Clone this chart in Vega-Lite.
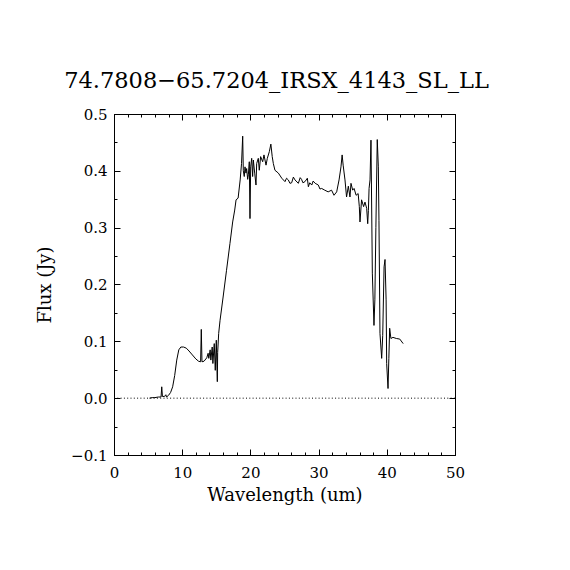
{
  "$schema": "https://vega.github.io/schema/vega-lite/v6.json",
  "width": 341,
  "height": 341,
  "autosize": "none",
  "padding": {"left": 114, "top": 114, "right": 115, "bottom": 115},
  "background": "white",
  "title": {
    "text": "74.7808−65.7204_IRSX_4143_SL_LL",
    "font": "DejaVu Serif",
    "fontSize": 22.5,
    "fontWeight": "normal",
    "color": "black",
    "anchor": "middle",
    "baseline": "alphabetic",
    "offset": 25,
    "dy": 28,
    "dx": -8
  },
  "datasets": {
    "spectrum": [
      {"wave": 5.2, "flux": 0.0}, {"wave": 5.6, "flux": 0.001}, {"wave": 6.0, "flux": 0.001},
      {"wave": 6.5, "flux": 0.002}, {"wave": 6.9, "flux": 0.002}, {"wave": 7.0, "flux": 0.02},
      {"wave": 7.1, "flux": 0.003}, {"wave": 7.4, "flux": 0.003}, {"wave": 7.6, "flux": 0.006},
      {"wave": 7.7, "flux": 0.002}, {"wave": 8.0, "flux": 0.005}, {"wave": 8.3, "flux": 0.01},
      {"wave": 8.6, "flux": 0.02}, {"wave": 8.9, "flux": 0.04}, {"wave": 9.2, "flux": 0.067},
      {"wave": 9.5, "flux": 0.085}, {"wave": 9.8, "flux": 0.09}, {"wave": 10.2, "flux": 0.09},
      {"wave": 10.6, "flux": 0.088}, {"wave": 11.0, "flux": 0.083}, {"wave": 11.5, "flux": 0.076},
      {"wave": 12.0, "flux": 0.069}, {"wave": 12.4, "flux": 0.065}, {"wave": 12.7, "flux": 0.064},
      {"wave": 12.8, "flux": 0.121}, {"wave": 12.9, "flux": 0.064}, {"wave": 13.2, "flux": 0.065},
      {"wave": 13.6, "flux": 0.071}, {"wave": 13.8, "flux": 0.079}, {"wave": 13.9, "flux": 0.07},
      {"wave": 14.1, "flux": 0.085}, {"wave": 14.2, "flux": 0.067}, {"wave": 14.4, "flux": 0.09},
      {"wave": 14.5, "flux": 0.061}, {"wave": 14.7, "flux": 0.096}, {"wave": 14.85, "flux": 0.049},
      {"wave": 15.0, "flux": 0.102}, {"wave": 15.15, "flux": 0.029}, {"wave": 15.2, "flux": 0.08},
      {"wave": 15.35, "flux": 0.114}, {"wave": 15.55, "flux": 0.137}, {"wave": 16.0, "flux": 0.178},
      {"wave": 16.5, "flux": 0.225}, {"wave": 17.0, "flux": 0.272}, {"wave": 17.4, "flux": 0.31},
      {"wave": 17.7, "flux": 0.331}, {"wave": 17.9, "flux": 0.349}, {"wave": 18.2, "flux": 0.352},
      {"wave": 18.5, "flux": 0.384}, {"wave": 18.7, "flux": 0.413}, {"wave": 18.87, "flux": 0.461},
      {"wave": 18.96, "flux": 0.4}, {"wave": 19.1, "flux": 0.39}, {"wave": 19.21, "flux": 0.407},
      {"wave": 19.35, "flux": 0.396}, {"wave": 19.45, "flux": 0.404}, {"wave": 19.6, "flux": 0.385},
      {"wave": 19.7, "flux": 0.393}, {"wave": 19.84, "flux": 0.416}, {"wave": 19.94, "flux": 0.316},
      {"wave": 20.04, "flux": 0.407}, {"wave": 20.19, "flux": 0.422}, {"wave": 20.33, "flux": 0.39},
      {"wave": 20.43, "flux": 0.419}, {"wave": 20.63, "flux": 0.396}, {"wave": 20.82, "flux": 0.375},
      {"wave": 20.92, "flux": 0.413}, {"wave": 21.16, "flux": 0.422}, {"wave": 21.3, "flux": 0.401},
      {"wave": 21.5, "flux": 0.425}, {"wave": 21.8, "flux": 0.416}, {"wave": 21.99, "flux": 0.428},
      {"wave": 22.29, "flux": 0.41}, {"wave": 22.48, "flux": 0.422}, {"wave": 22.78, "flux": 0.434},
      {"wave": 23.0, "flux": 0.447}, {"wave": 23.2, "flux": 0.425}, {"wave": 23.36, "flux": 0.413},
      {"wave": 23.6, "flux": 0.401}, {"wave": 24.1, "flux": 0.396}, {"wave": 24.6, "flux": 0.387},
      {"wave": 25.07, "flux": 0.381}, {"wave": 25.3, "flux": 0.387}, {"wave": 25.56, "flux": 0.384},
      {"wave": 25.8, "flux": 0.378}, {"wave": 26.05, "flux": 0.379}, {"wave": 26.3, "flux": 0.389},
      {"wave": 26.54, "flux": 0.384}, {"wave": 27.03, "flux": 0.378}, {"wave": 27.3, "flux": 0.388},
      {"wave": 27.5, "flux": 0.385}, {"wave": 27.7, "flux": 0.379}, {"wave": 28.0, "flux": 0.381},
      {"wave": 28.35, "flux": 0.387}, {"wave": 28.5, "flux": 0.372}, {"wave": 28.7, "flux": 0.379},
      {"wave": 29.0, "flux": 0.375}, {"wave": 29.2, "flux": 0.382}, {"wave": 29.5, "flux": 0.378},
      {"wave": 29.96, "flux": 0.375}, {"wave": 30.2, "flux": 0.368}, {"wave": 30.45, "flux": 0.369},
      {"wave": 30.9, "flux": 0.366}, {"wave": 31.4, "flux": 0.363}, {"wave": 31.9, "flux": 0.366},
      {"wave": 32.26, "flux": 0.357}, {"wave": 32.65, "flux": 0.363}, {"wave": 33.0, "flux": 0.384},
      {"wave": 33.28, "flux": 0.407}, {"wave": 33.45, "flux": 0.428}, {"wave": 33.6, "flux": 0.41},
      {"wave": 33.87, "flux": 0.384}, {"wave": 34.1, "flux": 0.354}, {"wave": 34.36, "flux": 0.373},
      {"wave": 34.6, "flux": 0.354}, {"wave": 34.75, "flux": 0.378}, {"wave": 35.0, "flux": 0.366},
      {"wave": 35.2, "flux": 0.369}, {"wave": 35.5, "flux": 0.357}, {"wave": 35.8, "flux": 0.36},
      {"wave": 35.97, "flux": 0.337}, {"wave": 36.07, "flux": 0.31}, {"wave": 36.3, "flux": 0.349},
      {"wave": 36.6, "flux": 0.337}, {"wave": 36.8, "flux": 0.345}, {"wave": 37.05, "flux": 0.334},
      {"wave": 37.2, "flux": 0.307}, {"wave": 37.3, "flux": 0.33}, {"wave": 37.4, "flux": 0.369},
      {"wave": 37.54, "flux": 0.384}, {"wave": 37.68, "flux": 0.454}, {"wave": 37.88, "flux": 0.22},
      {"wave": 38.12, "flux": 0.128}, {"wave": 38.25, "flux": 0.173}, {"wave": 38.4, "flux": 0.3},
      {"wave": 38.6, "flux": 0.455}, {"wave": 38.76, "flux": 0.407}, {"wave": 38.85, "flux": 0.313},
      {"wave": 39.0, "flux": 0.114}, {"wave": 39.25, "flux": 0.07}, {"wave": 39.4, "flux": 0.11},
      {"wave": 39.6, "flux": 0.231}, {"wave": 39.74, "flux": 0.244}, {"wave": 39.9, "flux": 0.173},
      {"wave": 39.98, "flux": 0.061}, {"wave": 40.18, "flux": 0.017}, {"wave": 40.3, "flux": 0.07},
      {"wave": 40.42, "flux": 0.123}, {"wave": 40.6, "flux": 0.105}, {"wave": 40.9, "flux": 0.107},
      {"wave": 41.4, "flux": 0.105}, {"wave": 41.9, "flux": 0.104}, {"wave": 42.4, "flux": 0.096}
    ],
    "zero": [{"wave": 0, "flux": 0}, {"wave": 50, "flux": 0}]
  },
  "config": {
    "view": {"stroke": "black", "strokeWidth": 1},
    "axis": {
      "grid": false,
      "domainColor": "black",
      "domainWidth": 1,
      "tickColor": "black",
      "tickWidth": 1,
      "labelColor": "black",
      "labelFont": "DejaVu Serif",
      "labelFontSize": 15,
      "titleColor": "black",
      "titleFont": "DejaVu Serif",
      "titleFontSize": 18,
      "titleFontWeight": "normal"
    }
  },
  "resolve": {"axis": {"x": "independent", "y": "independent"}},
  "layer": [
    {
      "data": {"name": "spectrum"},
      "mark": {"type": "line", "color": "black", "strokeWidth": 1, "clip": true},
      "encoding": {
        "x": {
          "field": "wave",
          "type": "quantitative",
          "scale": {"domain": [0, 50], "nice": false, "zero": false},
          "axis": {
            "orient": "bottom",
            "title": "Wavelength (um)",
            "values": [0, 2, 4, 6, 8, 10, 12, 14, 16, 18, 20, 22, 24, 26, 28, 30, 32, 34, 36, 38, 40, 42, 44, 46, 48, 50],
            "labelExpr": "datum.value % 10 === 0 ? datum.label : ''",
            "labelPadding": 16,
            "labelOverlap": false,
            "labelFlush": false,
            "tickSize": {"condition": {"test": "datum.value % 10 === 0", "value": -6}, "value": -3},
            "titlePadding": 3
          }
        },
        "y": {
          "field": "flux",
          "type": "quantitative",
          "scale": {"domain": [-0.1, 0.5], "nice": false, "zero": false},
          "axis": {
            "orient": "left",
            "title": "Flux (Jy)",
            "values": [-0.1, -0.05, 0, 0.05, 0.1, 0.15, 0.2, 0.25, 0.3, 0.35, 0.4, 0.45, 0.5],
            "format": ".1f",
            "labelExpr": "round(datum.value * 100) % 10 === 0 ? datum.label : ''",
            "labelPadding": 13,
            "labelOverlap": false,
            "labelFlush": false,
            "tickSize": {"condition": {"test": "round(datum.value * 100) % 10 === 0", "value": -6}, "value": -3},
            "titlePadding": 16
          }
        }
      }
    },
    {
      "data": {"name": "zero"},
      "mark": {"type": "line", "color": "black", "strokeWidth": 1, "strokeDash": [1, 2.3]},
      "encoding": {
        "x": {
          "field": "wave",
          "type": "quantitative",
          "axis": {
            "orient": "top",
            "title": null,
            "labels": false,
            "values": [0, 2, 4, 6, 8, 10, 12, 14, 16, 18, 20, 22, 24, 26, 28, 30, 32, 34, 36, 38, 40, 42, 44, 46, 48, 50],
            "tickSize": {"condition": {"test": "datum.value % 10 === 0", "value": -6}, "value": -3}
          }
        },
        "y": {
          "field": "flux",
          "type": "quantitative",
          "axis": {
            "orient": "right",
            "title": null,
            "labels": false,
            "values": [-0.1, -0.05, 0, 0.05, 0.1, 0.15, 0.2, 0.25, 0.3, 0.35, 0.4, 0.45, 0.5],
            "tickSize": {"condition": {"test": "round(datum.value * 100) % 10 === 0", "value": -6}, "value": -3}
          }
        }
      }
    }
  ]
}
